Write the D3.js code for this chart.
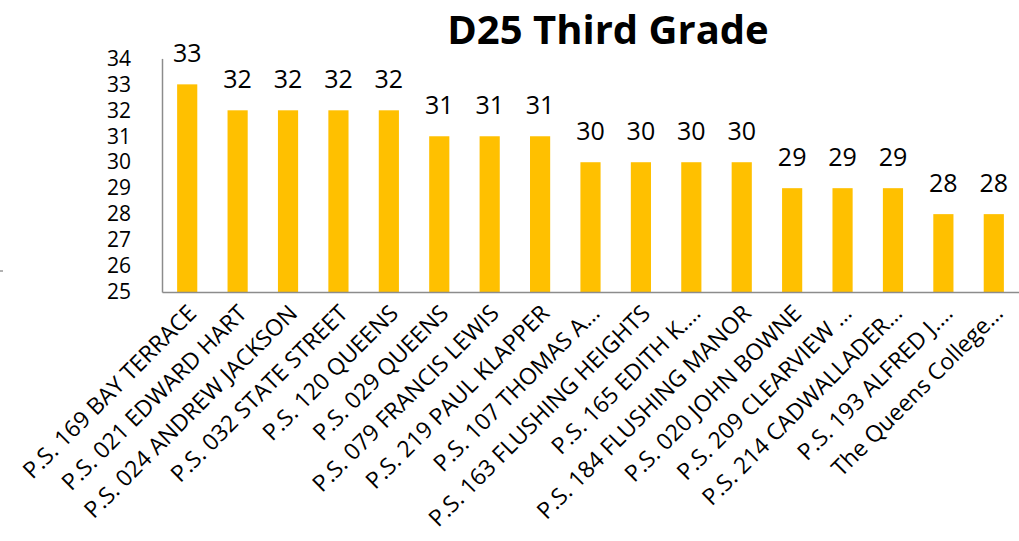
<!DOCTYPE html>
<html><head><meta charset="utf-8">
<script src="https://cdn.jsdelivr.net/npm/d3@7"></script>
<style>
body{margin:0;background:#fff;}
svg{display:block;}
text{font-family:"Open Sans","Noto Sans",sans-serif;fill:#000;}
</style></head>
<body>
<svg id="chart" width="1019" height="541"></svg>
<script>
const title = "D25 Third Grade";
const categories = [
  "P.S. 169 BAY TERRACE","P.S. 021 EDWARD HART","P.S. 024 ANDREW JACKSON","P.S. 032 STATE STREET",
  "P.S. 120 QUEENS","P.S. 029 QUEENS","P.S. 079 FRANCIS LEWIS","P.S. 219 PAUL KLAPPER",
  "P.S. 107 THOMAS A…","P.S. 163 FLUSHING HEIGHTS","P.S. 165 EDITH K.…","P.S. 184 FLUSHING MANOR",
  "P.S. 020 JOHN BOWNE","P.S. 209 CLEARVIEW …","P.S. 214 CADWALLADER…","P.S. 193 ALFRED J.…",
  "The Queens College…"
];
const values = [33,32,32,32,32,31,31,31,30,30,30,30,29,29,29,28,28];
const yTicks = [25,26,27,28,29,30,31,32,33,34];

const svg = d3.select("#chart");
const mLeft = 162, mRight = 1019, mTop = 58.4, mBottom = 292;

const x = d3.scaleBand().domain(categories).range([mLeft, mRight]).paddingInner(0.6).paddingOuter(0.3);
const y = d3.scaleLinear().domain([25, 34]).range([mBottom, mTop]);

// title
svg.append("text").attr("x", 608).attr("y", 44).attr("text-anchor", "middle")
  .style("font-size", "40px").style("font-weight", "bold").text(title);

// bars
svg.append("g").selectAll("rect").data(values).join("rect")
  .attr("x", (d, i) => x(categories[i]))
  .attr("width", x.bandwidth())
  .attr("y", d => y(d))
  .attr("height", d => mBottom - y(d))
  .attr("fill", "#FFC000");

// value labels
svg.append("g").selectAll("text").data(values).join("text")
  .attr("x", (d, i) => x(categories[i]) + x.bandwidth() / 2)
  .attr("y", d => y(d) - 22)
  .attr("text-anchor", "middle")
  .style("font-size", "25px")
  .text(d => d);

// y axis
const yAxis = svg.append("g").attr("transform", `translate(${mLeft},0)`)
  .call(d3.axisLeft(y).tickValues(yTicks).tickSize(0).tickPadding(31).tickFormat(d3.format("d")));
yAxis.select(".domain").attr("stroke", "#8c8c8c").attr("stroke-width", 1.5);
yAxis.selectAll("text").style("font-size", "21px").style("font-family", "'Open Sans','Noto Sans',sans-serif").attr("fill", "#000");

// x axis
const xAxis = svg.append("g").attr("transform", `translate(0,${mBottom})`)
  .call(d3.axisBottom(x).tickSize(0).tickFormat(""));
xAxis.select(".domain").attr("stroke", "#8c8c8c").attr("stroke-width", 1.5);

svg.append("g").selectAll("text").data(categories).join("text")
  .attr("transform", d => `translate(${x(d) + x.bandwidth() / 2 + 5},${mBottom + 17}) rotate(-45)`)
  .attr("text-anchor", "end")
  .attr("dy", "0.35em")
  .style("font-size", "23px")
  .text(d => d);

// small stray mark at left edge
svg.append("line").attr("x1", 0).attr("x2", 3).attr("y1", 271).attr("y2", 271)
  .attr("stroke", "#999").attr("stroke-width", 1.5);
</script>
</body></html>
